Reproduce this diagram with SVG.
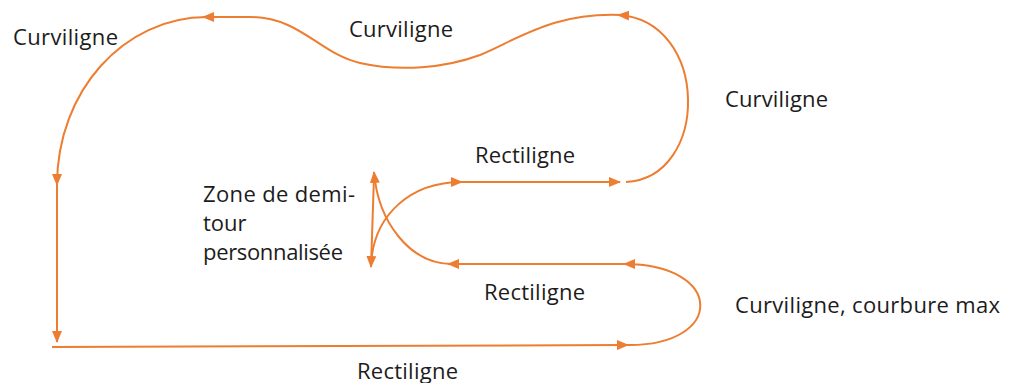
<svg xmlns="http://www.w3.org/2000/svg" width="1015" height="383" viewBox="0 0 1015 383">
  <style>
    .c { fill: none; stroke: #ED7D31; stroke-width: 2; marker-end: url(#ah); }
    .t { font-family: "Open Sans", "Liberation Sans", sans-serif; font-size: 22px; fill: #1c1c1c; }
  </style>
  <defs>
    <marker id="ah" markerWidth="12" markerHeight="10" refX="11" refY="5" orient="auto" markerUnits="userSpaceOnUse">
      <path d="M0,0 L12,5 L0,10 z" fill="#ED7D31"/>
    </marker>
  </defs>
  <rect width="1015" height="383" fill="#ffffff"/>
  <g id="connectors">
    <path class="c" d="M207,17 C124,17 57,91 57,185"/>
    <path class="c" d="M57,185 L57,342"/>
    <path class="c" d="M52,347 L628,345"/>
    <path class="c" d="M628,345 C725,346 725,264 624,264"/>
    <path class="c" d="M624,264 L448,264"/>
    <path class="c" d="M452,264 C410,264 378,222 374,172"/>
    <path class="c" d="M374,176 L371,267"/>
    <path class="c" d="M371,264 C374,215 410,182 462,182"/>
    <path class="c" d="M460,182 L620,182"/>
    <path class="c" d="M626,182 C710,178 710,20 618,15"/>
    <path class="c" d="M622,15 C555,12 520,38 480,55 C445,68 400,72 360,63 C320,54 300,17 250,17 L203,17"/>
  </g>
  <g id="label-curv-left"><text class="t" x="13" y="45" textLength="105">Curviligne</text></g>
  <g id="label-curv-top"><text class="t" x="349" y="37" textLength="104">Curviligne</text></g>
  <g id="label-curv-right"><text class="t" x="725" y="107" textLength="103">Curviligne</text></g>
  <g id="label-rect-upper"><text class="t" x="475" y="163" textLength="100">Rectiligne</text></g>
  <g id="label-rect-middle"><text class="t" x="484" y="300" textLength="101">Rectiligne</text></g>
  <g id="label-rect-bottom"><text class="t" x="357" y="379" textLength="101">Rectiligne</text></g>
  <g id="label-curv-max"><text class="t" x="735" y="313" textLength="265">Curviligne, courbure max</text></g>
  <g id="label-zone">
    <text class="t" x="203" y="202" textLength="152">Zone de demi-</text>
    <text class="t" x="203" y="231">tour</text>
    <text class="t" x="203" y="260" textLength="140">personnalisée</text>
  </g>
</svg>
